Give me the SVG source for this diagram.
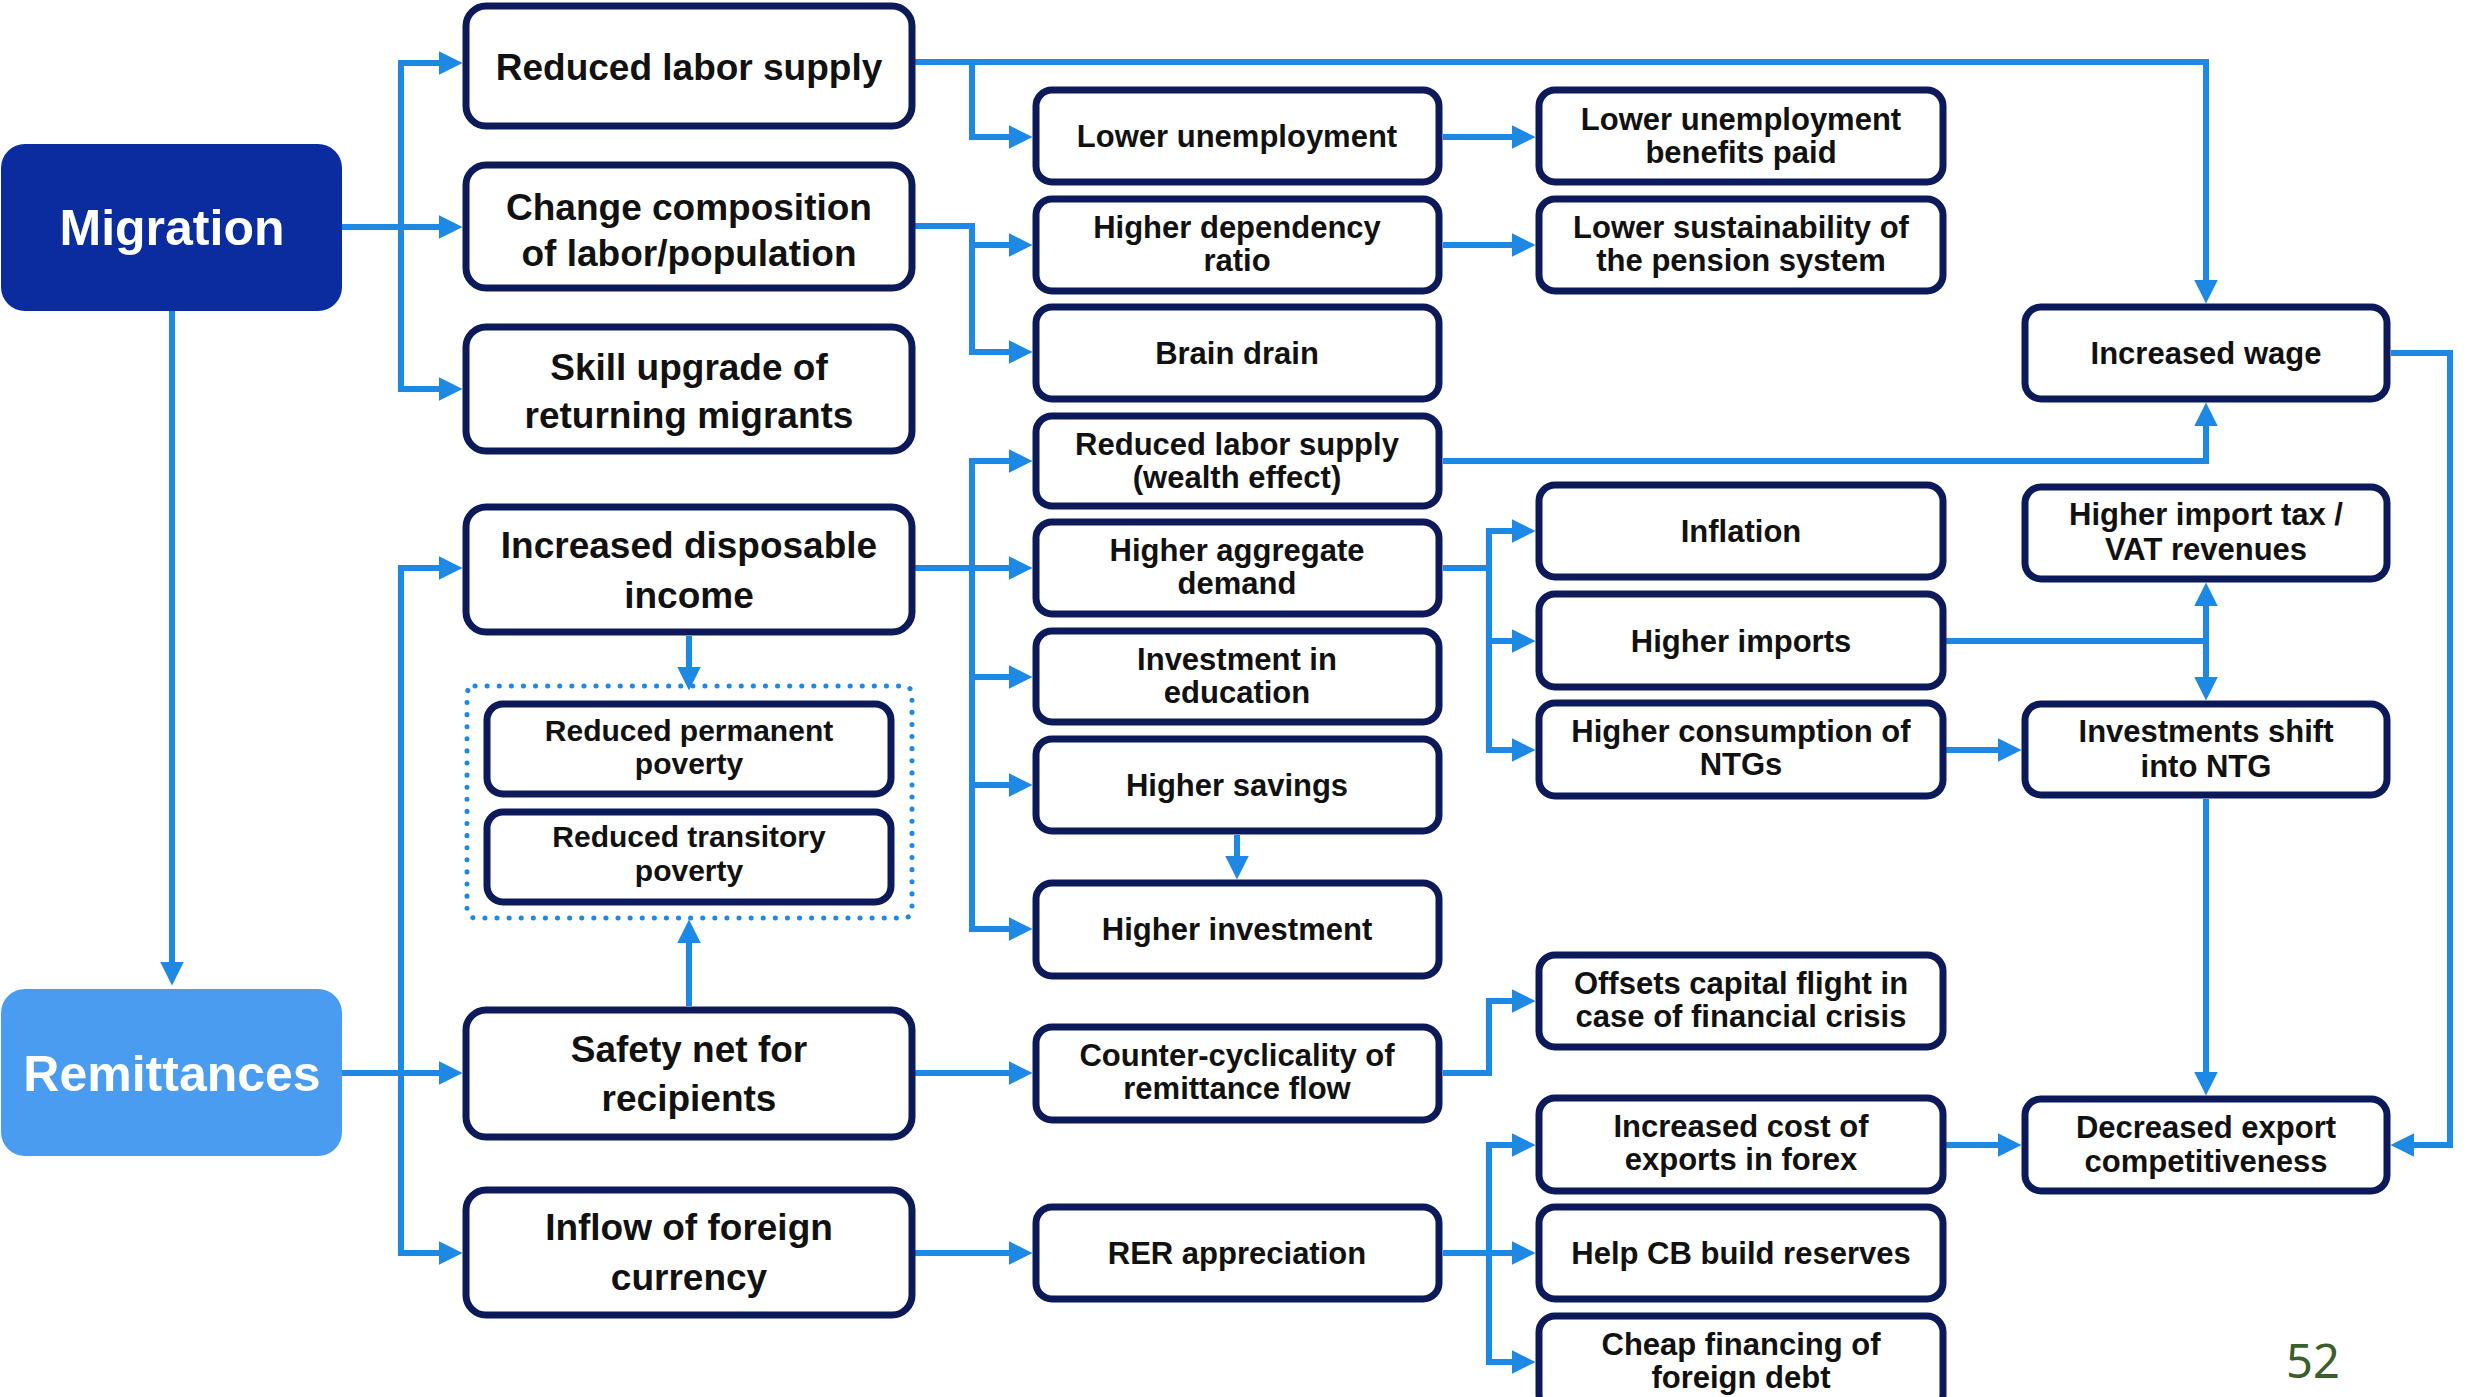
<svg xmlns="http://www.w3.org/2000/svg" width="2484" height="1397" viewBox="0 0 2484 1397">
  <defs>
    <marker id="arrow" markerUnits="userSpaceOnUse" markerWidth="24" markerHeight="24" viewBox="0 0 22 22" refX="16" refY="11" orient="auto">
      <path d="M0,0 L22,11 L0,22 z" fill="#1e88e5"/>
    </marker>
    <style>
      .box { fill: #ffffff; stroke: #0c1a5a; stroke-width: 7; }
      .lg { font-family: "Liberation Sans", Arial, sans-serif; font-weight: bold; font-size: 37px; fill: #111111; text-anchor: middle; }
      .sm { font-family: "Liberation Sans", Arial, sans-serif; font-weight: bold; font-size: 31px; fill: #111111; text-anchor: middle; }
      .xs { font-family: "Liberation Sans", Arial, sans-serif; font-weight: bold; font-size: 30px; fill: #111111; text-anchor: middle; }
      .head { font-family: "Liberation Sans", Arial, sans-serif; font-weight: bold; font-size: 50px; fill: #ffffff; text-anchor: middle; }
      .conn path { fill: none; stroke: #1e88e5; stroke-width: 6; stroke-linejoin: miter; }
      .conn path.a { marker-end: url(#arrow); }
      .dots { fill: none; stroke: #1e88e5; stroke-width: 5; stroke-dasharray: 0.1 12; stroke-linecap: round; }
      .page { font-family: "Noto Sans", "Open Sans", sans-serif; font-size: 47px; fill: #3a5f2a; text-anchor: middle; }
    </style>
  </defs>

  <rect width="2484" height="1397" fill="#ffffff"/>

  <!-- connectors -->
  <g id="connectors" class="conn">
    <!-- Migration fan-out -->
    <path class="a" d="M342,227 H456"/>
    <path class="a" d="M401,227 V63 H456"/>
    <path class="a" d="M401,227 V389 H456"/>
    <path class="a" d="M172,311 V979"/>
    <!-- Remittances fan-out -->
    <path class="a" d="M342,1073 H456"/>
    <path class="a" d="M401,1073 V568 H456"/>
    <path class="a" d="M401,1073 V1253 H456"/>
    <!-- poverty group -->
    <path class="a" d="M689,636 V684"/>
    <path class="a" d="M689,1006 V926"/>
    <!-- reduced labor supply -->
    <path class="a" d="M915,62 H2206 V297"/>
    <path class="a" d="M972,62 V137 H1026"/>
    <!-- change composition -->
    <path class="a" d="M915,226 H972 V352 H1026"/>
    <path class="a" d="M972,245 H1026"/>
    <path class="a" d="M1443,137 H1529"/>
    <path class="a" d="M1443,245 H1529"/>
    <!-- increased disposable income -->
    <path class="a" d="M915,568 H1026"/>
    <path class="a" d="M972,568 V461 H1026"/>
    <path class="a" d="M972,568 V929 H1026"/>
    <path class="a" d="M972,677 H1026"/>
    <path class="a" d="M972,785 H1026"/>
    <path class="a" d="M1237,835 V873"/>
    <!-- wealth effect to wage -->
    <path class="a" d="M1443,461 H2206 V409"/>
    <!-- aggregate demand -->
    <path class="a" d="M1443,568 H1489 V750 H1529"/>
    <path class="a" d="M1489,568 V531 H1529"/>
    <path class="a" d="M1489,641 H1529"/>
    <!-- imports -->
    <path d="M1946,641 H2206"/>
    <path class="a" d="M2206,641 V589"/>
    <path class="a" d="M2206,641 V694"/>
    <path class="a" d="M1946,750 H2015"/>
    <path class="a" d="M2206,799 V1089"/>
    <path class="a" d="M2391,353 H2450 V1145 H2397"/>
    <path class="a" d="M1946,1145 H2015"/>
    <!-- safety net / foreign currency -->
    <path class="a" d="M915,1073 H1026"/>
    <path class="a" d="M1443,1073 H1489 V1001 H1529"/>
    <path class="a" d="M915,1253 H1026"/>
    <path class="a" d="M1443,1253 H1529"/>
    <path class="a" d="M1489,1253 V1145 H1529"/>
    <path class="a" d="M1489,1253 V1362 H1529"/>
  </g>

  <!-- source nodes -->
  <g id="migration">
    <rect x="1" y="144" width="341" height="167" rx="24" fill="#0b2c9f"/>
    <text class="head" x="172" y="245">Migration</text>
  </g>
  <g id="remittances">
    <rect x="1" y="989" width="341" height="167" rx="24" fill="#4a9cf0"/>
    <text class="head" x="172" y="1091">Remittances</text>
  </g>

  <!-- second column -->
  <g id="reduced-labor-supply">
    <rect class="box" x="466" y="6" width="446" height="120" rx="20"/>
    <text class="lg" x="689" y="80">Reduced labor supply</text>
  </g>
  <g id="change-composition">
    <rect class="box" x="466" y="165" width="446" height="123" rx="20"/>
    <text class="lg" x="689" y="220">Change composition</text>
    <text class="lg" x="689" y="266">of labor/population</text>
  </g>
  <g id="skill-upgrade">
    <rect class="box" x="466" y="327" width="446" height="124" rx="20"/>
    <text class="lg" x="689" y="380">Skill upgrade of</text>
    <text class="lg" x="689" y="428">returning migrants</text>
  </g>
  <g id="disposable-income">
    <rect class="box" x="466" y="507" width="446" height="125" rx="20"/>
    <text class="lg" x="689" y="558">Increased disposable</text>
    <text class="lg" x="689" y="608">income</text>
  </g>
  <g id="poverty-group">
    <rect class="dots" x="467" y="686" width="445" height="232" rx="8"/>
  </g>
  <g id="permanent-poverty">
    <rect class="box" x="487" y="704" width="404" height="90" rx="16"/>
    <text class="xs" x="689" y="741">Reduced permanent</text>
    <text class="xs" x="689" y="774">poverty</text>
  </g>
  <g id="transitory-poverty">
    <rect class="box" x="487" y="812" width="404" height="90" rx="16"/>
    <text class="xs" x="689" y="847">Reduced transitory</text>
    <text class="xs" x="689" y="881">poverty</text>
  </g>
  <g id="safety-net">
    <rect class="box" x="466" y="1010" width="446" height="127" rx="20"/>
    <text class="lg" x="689" y="1062">Safety net for</text>
    <text class="lg" x="689" y="1111">recipients</text>
  </g>
  <g id="foreign-currency">
    <rect class="box" x="466" y="1190" width="446" height="125" rx="20"/>
    <text class="lg" x="689" y="1240">Inflow of foreign</text>
    <text class="lg" x="689" y="1290">currency</text>
  </g>

  <!-- third column -->
  <g id="lower-unemployment">
    <rect class="box" x="1036" y="90" width="403" height="92" rx="16"/>
    <text class="sm" x="1237" y="147">Lower unemployment</text>
  </g>
  <g id="dependency-ratio">
    <rect class="box" x="1036" y="199" width="403" height="92" rx="16"/>
    <text class="sm" x="1237" y="238">Higher dependency</text>
    <text class="sm" x="1237" y="271">ratio</text>
  </g>
  <g id="brain-drain">
    <rect class="box" x="1036" y="307" width="403" height="92" rx="16"/>
    <text class="sm" x="1237" y="364">Brain drain</text>
  </g>
  <g id="wealth-effect">
    <rect class="box" x="1036" y="416" width="403" height="90" rx="16"/>
    <text class="sm" x="1237" y="455">Reduced labor supply</text>
    <text class="sm" x="1237" y="488">(wealth effect)</text>
  </g>
  <g id="aggregate-demand">
    <rect class="box" x="1036" y="522" width="403" height="92" rx="16"/>
    <text class="sm" x="1237" y="561">Higher aggregate</text>
    <text class="sm" x="1237" y="594">demand</text>
  </g>
  <g id="education">
    <rect class="box" x="1036" y="631" width="403" height="91" rx="16"/>
    <text class="sm" x="1237" y="670">Investment in</text>
    <text class="sm" x="1237" y="703">education</text>
  </g>
  <g id="savings">
    <rect class="box" x="1036" y="739" width="403" height="92" rx="16"/>
    <text class="sm" x="1237" y="796">Higher savings</text>
  </g>
  <g id="investment">
    <rect class="box" x="1036" y="883" width="403" height="93" rx="16"/>
    <text class="sm" x="1237" y="940">Higher investment</text>
  </g>
  <g id="counter-cyclicality">
    <rect class="box" x="1036" y="1027" width="403" height="93" rx="16"/>
    <text class="sm" x="1237" y="1066">Counter-cyclicality of</text>
    <text class="sm" x="1237" y="1099">remittance flow</text>
  </g>
  <g id="rer-appreciation">
    <rect class="box" x="1036" y="1207" width="403" height="92" rx="16"/>
    <text class="sm" x="1237" y="1264">RER appreciation</text>
  </g>

  <!-- fourth column -->
  <g id="unemployment-benefits">
    <rect class="box" x="1539" y="90" width="404" height="92" rx="16"/>
    <text class="sm" x="1741" y="130">Lower unemployment</text>
    <text class="sm" x="1741" y="163">benefits paid</text>
  </g>
  <g id="pension-system">
    <rect class="box" x="1539" y="199" width="404" height="92" rx="16"/>
    <text class="sm" x="1741" y="238">Lower sustainability of</text>
    <text class="sm" x="1741" y="271">the pension system</text>
  </g>
  <g id="inflation">
    <rect class="box" x="1539" y="485" width="404" height="92" rx="16"/>
    <text class="sm" x="1741" y="542">Inflation</text>
  </g>
  <g id="higher-imports">
    <rect class="box" x="1539" y="594" width="404" height="93" rx="16"/>
    <text class="sm" x="1741" y="652">Higher imports</text>
  </g>
  <g id="ntg-consumption">
    <rect class="box" x="1539" y="703" width="404" height="93" rx="16"/>
    <text class="sm" x="1741" y="742">Higher consumption of</text>
    <text class="sm" x="1741" y="775">NTGs</text>
  </g>
  <g id="capital-flight">
    <rect class="box" x="1539" y="955" width="404" height="92" rx="16"/>
    <text class="sm" x="1741" y="994">Offsets capital flight in</text>
    <text class="sm" x="1741" y="1027">case of financial crisis</text>
  </g>
  <g id="export-cost">
    <rect class="box" x="1539" y="1098" width="404" height="93" rx="16"/>
    <text class="sm" x="1741" y="1137">Increased cost of</text>
    <text class="sm" x="1741" y="1170">exports in forex</text>
  </g>
  <g id="cb-reserves">
    <rect class="box" x="1539" y="1207" width="404" height="92" rx="16"/>
    <text class="sm" x="1741" y="1264">Help CB build reserves</text>
  </g>
  <g id="cheap-financing">
    <rect class="box" x="1539" y="1316" width="404" height="94" rx="16"/>
    <text class="sm" x="1741" y="1355">Cheap financing of</text>
    <text class="sm" x="1741" y="1388">foreign debt</text>
  </g>

  <!-- fifth column -->
  <g id="increased-wage">
    <rect class="box" x="2025" y="307" width="362" height="92" rx="16"/>
    <text class="sm" x="2206" y="364">Increased wage</text>
  </g>
  <g id="import-tax">
    <rect class="box" x="2025" y="487" width="362" height="92" rx="16"/>
    <text class="sm" x="2206" y="525">Higher import tax /</text>
    <text class="sm" x="2206" y="560">VAT revenues</text>
  </g>
  <g id="ntg-investment">
    <rect class="box" x="2025" y="704" width="362" height="91" rx="16"/>
    <text class="sm" x="2206" y="742">Investments shift</text>
    <text class="sm" x="2206" y="777">into NTG</text>
  </g>
  <g id="export-competitiveness">
    <rect class="box" x="2025" y="1099" width="362" height="92" rx="16"/>
    <text class="sm" x="2206" y="1138">Decreased export</text>
    <text class="sm" x="2206" y="1172">competitiveness</text>
  </g>

  <text class="page" x="2313" y="1378">52</text>
</svg>
